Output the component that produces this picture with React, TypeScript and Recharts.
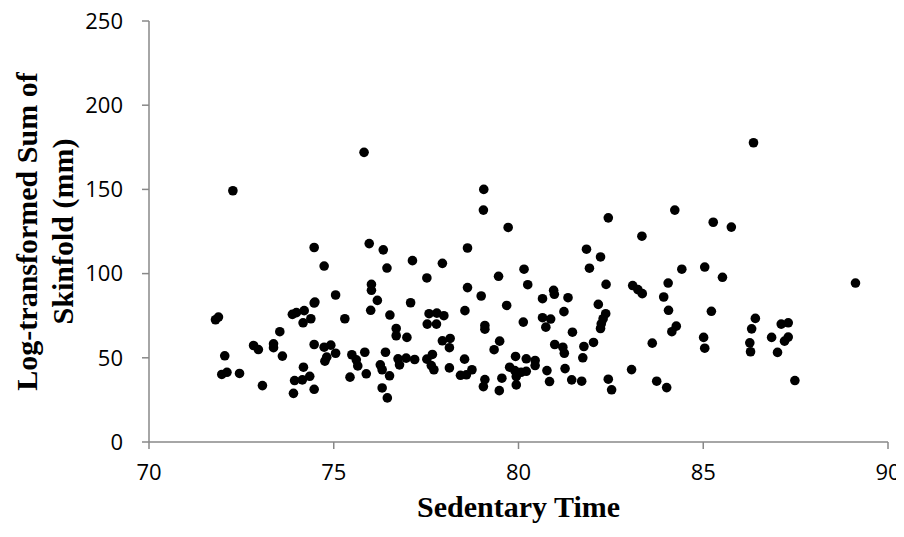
import React from 'react';
import { ScatterChart, Scatter, XAxis, YAxis } from 'recharts';

// sedentary time (x) and log-transformed skinfold sum (y), one entry per participant
const sedentaryTime = [
  72.27, 74.47, 74.74, 71.8, 71.88, 74.47, 74.49, 73.88, 73.99, 74.2,
  74.38, 74.17, 73.54, 72.83, 72.96, 73.37, 73.37, 73.61, 72.05, 74.47,
  74.74, 74.92, 74.76, 74.81, 71.97, 72.11, 72.45, 73.07, 74.18, 73.94,
  74.15, 74.35, 73.91, 74.47, 75.82, 79.06, 79.05, 79.72, 75.96, 76.34,
  76.44, 77.13, 77.94, 78.62, 77.52, 79.46, 75.05, 76.02, 76.02, 76.18,
  78.62, 78.99, 79.68, 75.3, 76.0, 76.52, 77.08, 78.55, 77.58, 77.79,
  77.98, 77.53, 77.78, 79.09, 79.09, 76.69, 76.69, 76.98, 77.94, 78.15,
  78.13, 79.49, 79.34, 75.05, 75.49, 75.61, 75.65, 75.84, 76.4, 76.26,
  76.31, 75.44, 75.88, 76.51, 76.31, 76.45, 76.74, 76.78, 76.96, 77.19,
  77.52, 77.64, 77.71, 77.67, 78.13, 78.54, 78.43, 78.59, 78.74, 79.09,
  79.05, 79.48, 79.55, 79.92, 79.76, 79.9, 79.94, 79.94, 80.15, 80.25,
  80.13, 80.21, 80.45, 80.45, 80.07, 80.21, 80.65, 80.95, 80.97, 81.34,
  81.23, 80.65, 80.87, 80.74, 81.46, 80.98, 81.2, 81.24, 81.77, 82.03,
  81.74, 80.77, 81.26, 80.84, 81.44, 81.71, 82.43, 81.84, 82.22, 81.92,
  82.37, 82.16, 82.36, 82.29, 82.24, 82.22, 82.43, 82.52, 83.06, 83.34,
  83.09, 83.23, 83.35, 83.62, 83.74, 84.01, 84.05, 83.93, 84.06, 84.27,
  84.15, 84.23, 84.42, 85.04, 85.01, 85.04, 86.36, 85.27, 85.76, 85.52,
  85.22, 89.12, 86.41, 86.31, 86.26, 86.28, 87.11, 87.3, 86.85, 87.3,
  87.2, 87.01, 87.48,
];

const skinfoldSum = [
  149.2, 115.5, 104.5, 72.6, 74.2, 82.5, 83.1, 75.8, 76.8, 78.0,
  73.2, 70.8, 65.5, 57.3, 54.9, 58.3, 56.0, 51.0, 51.2, 57.9,
  56.3, 57.5, 48.0, 50.4, 40.1, 41.4, 40.7, 33.5, 44.4, 36.5,
  36.9, 39.0, 28.9, 31.3, 172.0, 150.0, 137.7, 127.4, 117.8, 114.1,
  103.3, 107.7, 106.1, 115.2, 97.4, 98.4, 87.3, 93.6, 90.1, 84.1,
  91.7, 86.7, 81.1, 73.2, 78.2, 75.4, 82.7, 78.0, 76.2, 76.5,
  75.0, 70.0, 70.0, 69.2, 67.0, 67.4, 63.1, 62.1, 60.1, 61.5,
  56.0, 59.9, 54.8, 52.7, 51.8, 48.8, 45.2, 53.3, 53.3, 45.8,
  42.9, 38.5, 40.5, 39.3, 32.1, 26.2, 49.4, 45.8, 49.8, 49.0,
  49.2, 45.4, 42.9, 52.0, 44.0, 49.2, 39.6, 39.9, 42.9, 37.1,
  32.9, 30.5, 37.9, 50.8, 44.4, 42.4, 38.9, 33.9, 102.6, 93.4,
  71.2, 49.4, 48.4, 45.4, 41.4, 42.0, 85.1, 90.1, 87.7, 85.7,
  77.4, 73.8, 73.0, 68.2, 65.2, 57.9, 56.3, 52.7, 56.7, 59.1,
  50.0, 42.4, 43.6, 35.9, 36.9, 36.1, 133.1, 114.5, 109.9, 103.2,
  93.6, 81.7, 76.2, 73.2, 70.2, 67.4, 37.3, 31.0, 43.0, 122.2,
  92.9, 90.5, 88.1, 58.7, 36.1, 32.3, 94.4, 86.1, 78.2, 68.8,
  65.5, 137.7, 102.6, 103.9, 62.1, 55.7, 177.7, 130.5, 127.6, 97.8,
  77.6, 94.4, 73.4, 67.2, 58.9, 53.6, 70.0, 70.8, 62.1, 62.3,
  59.9, 53.2, 36.5,
];

const xTicks = [70, 75, 80, 85, 90];
const yTicks = [0, 50, 100, 150, 200, 250];

const points = sedentaryTime.map((x, i) => ({ x, y: skinfoldSum[i] }));

const axisColor = '#888888';
const tickFont = '"Open Sans", Lato, sans-serif';
const titleFont = '"Liberation Serif", "DejaVu Serif", serif';

const YTitle = (props: any) => {
  const vb = props.viewBox ?? { x: 0, y: 21, width: 149, height: 421 };
  const cy = vb.y + vb.height / 2;
  const lines = [
    { text: 'Log-transformed Sum of', x: vb.x + 26 },
    { text: 'Skinfold (mm)', x: vb.x + 62 },
  ];
  return (
    <g>
      {lines.map((l) => (
        <text
          key={l.text}
          x={l.x}
          y={cy}
          transform={`rotate(-90, ${l.x}, ${cy})`}
          textAnchor="middle"
          dominantBaseline="central"
          fontFamily={titleFont}
          fontWeight="bold"
          fontSize={30}
          fill="#000"
        >
          {l.text}
        </text>
      ))}
    </g>
  );
};

const XTitle = (props: any) => {
  const vb = props.viewBox ?? { x: 149, y: 442, width: 739, height: 95 };
  return (
    <text
      x={vb.x + vb.width / 2}
      y={vb.y + 64}
      textAnchor="middle"
      dominantBaseline="central"
      fontFamily={titleFont}
      fontWeight="bold"
      fontSize={30}
      fill="#000"
    >
      Sedentary Time
    </text>
  );
};

const Dot = (props: any) => <circle cx={props.cx} cy={props.cy} r={4.8} fill="#000" />;

export default function App() {
  return (
    <div style={{ margin: -8 }}>
      <ScatterChart
        width={904}
        height={537}
        margin={{ top: 21, right: 16, bottom: 0, left: 0 }}
      >
        <XAxis
          type="number"
          dataKey="x"
          domain={[70, 90]}
          ticks={xTicks}
          height={95}
          stroke={axisColor}
          strokeWidth={1.5}
          tickSize={7}
          tickMargin={15}
          tick={{ fill: '#000', fontSize: 22, fontFamily: tickFont }}
          label={{ content: XTitle }}
        />
        <YAxis
          type="number"
          dataKey="y"
          domain={[0, 250]}
          ticks={yTicks}
          width={149}
          stroke={axisColor}
          strokeWidth={1.5}
          tickSize={7}
          tickMargin={19}
          tick={{ fill: '#000', fontSize: 22, fontFamily: tickFont }}
          label={{ content: YTitle }}
        />
        <Scatter data={points} shape={Dot} isAnimationActive={false} />
      </ScatterChart>
    </div>
  );
}
